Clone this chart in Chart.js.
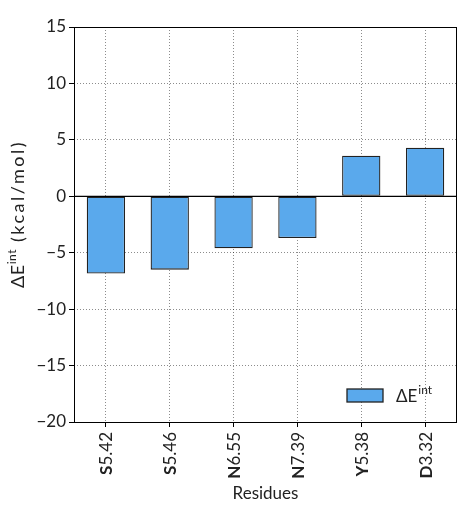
<!DOCTYPE html>
<html>
<head>
<meta charset="utf-8">
<script src="https://cdn.jsdelivr.net/npm/chart.js@4.4.0/dist/chart.umd.min.js"></script>
<style>
  html, body { margin: 0; padding: 0; background: #fff; }
  #wrap { width: 459px; height: 513px; }
</style>
</head>
<body>
<div id="wrap"><canvas id="chart1"></canvas></div>
<script>
const residues = ["S5.42", "S5.46", "N6.55", "N7.39", "Y5.38", "D3.32"];
const energies = [-6.85, -6.5, -4.6, -3.7, 3.6, 4.3];
const yTicks = [-20, -15, -10, -5, 0, 5, 10, 15];

const barColor = '#5AA9EC';
const inkColor = '#222';
const fontName = 'Lato';

// frame, zero line, rotated tick labels, axis titles and legend
const extras = {
    id: 'extras',
    afterDatasetsDraw(chart) {
        const ctx = chart.ctx;
        const area = chart.chartArea;
        const x = chart.scales.x;
        const y = chart.scales.y;
        ctx.save();

        // zero line
        ctx.strokeStyle = '#000';
        ctx.lineWidth = 1.3;
        ctx.beginPath();
        ctx.moveTo(area.left, y.getPixelForValue(0));
        ctx.lineTo(area.right, y.getPixelForValue(0));
        ctx.stroke();

        // frame
        ctx.lineWidth = 1;
        ctx.strokeRect(area.left + 0.5, area.top + 0.5, area.right - area.left - 1, area.bottom - area.top);

        // x tick labels: first letter bold
        ctx.fillStyle = inkColor;
        ctx.textBaseline = 'middle';
        ctx.textAlign = 'right';
        residues.forEach((lab, i) => {
            const px = x.getPixelForTick(i);
            ctx.save();
            ctx.translate(px + 1, area.bottom + 10);
            ctx.rotate(-Math.PI / 2);
            ctx.font = '17px ' + fontName;
            const rest = lab.slice(1);
            ctx.fillText(rest, 0, 0);
            const w = ctx.measureText(rest).width;
            ctx.font = 'bold 17px ' + fontName;
            ctx.fillText(lab[0], -w, 0);
            ctx.restore();
        });

        // x title
        ctx.font = '17px ' + fontName;
        ctx.textAlign = 'center';
        ctx.textBaseline = 'alphabetic';
        ctx.fillText('Residues', (area.left + area.right) / 2, 499);

        // y title with superscript
        const big = '17px ' + fontName;
        const small = '12px ' + fontName;
        const tbig = '18px ' + fontName;
        ctx.save();
        ctx.translate(24, 214);
        ctx.rotate(-Math.PI / 2);
        ctx.textAlign = 'left';
        ctx.font = tbig;
        ctx.letterSpacing = '0.5px';
        const w1 = ctx.measureText('ΔE').width;
        ctx.font = small;
        const w2 = ctx.measureText('int').width;
        ctx.letterSpacing = '2.5px';
        ctx.font = tbig;
        const w3 = ctx.measureText(' (kcal/mol)').width;
        let sx = -(w1 + w2 + w3) / 2;
        ctx.letterSpacing = '0.5px';
        ctx.fillText('ΔE', sx, 0);
        ctx.font = small;
        ctx.fillText('int', sx + w1, -8);
        ctx.letterSpacing = '2.5px';
        ctx.font = tbig;
        ctx.fillText(' (kcal/mol)', sx + w1 + w2, 0);
        ctx.restore();

        // legend
        ctx.fillStyle = barColor;
        ctx.fillRect(347, 389, 36, 13);
        ctx.strokeStyle = inkColor;
        ctx.lineWidth = 1.3;
        ctx.strokeRect(347, 389, 36, 13);
        ctx.fillStyle = inkColor;
        ctx.textAlign = 'left';
        ctx.font = big;
        ctx.fillText('ΔE', 396, 402);
        const lw = ctx.measureText('ΔE').width;
        ctx.font = small;
        ctx.fillText('int', 396 + lw + 1, 394);

        ctx.restore();
    }
};

new Chart("chart1", {
    type: "bar",
    data: {
        labels: residues,
        datasets: [{
            label: 'ΔE int',
            data: energies,
            backgroundColor: barColor,
            borderColor: inkColor,
            borderWidth: 1.3,
            borderSkipped: false,
            barPercentage: 0.6,
            categoryPercentage: 1.0
        }]
    },
    options: {
        responsive: true,
        maintainAspectRatio: false,
        animation: false,
        layout: { padding: { top: 27, right: 2, left: 0, bottom: 0 } },
        plugins: {
            legend: { display: false },
            tooltip: { enabled: false }
        },
        scales: {
            x: {
                offset: true,
                afterFit(scale) { scale.height = 91; },
                ticks: { display: false },
                grid: {
                    offset: false,
                    color: 'rgba(0,0,0,0.45)',
                    tickColor: '#000',
                    tickLength: 5,
                    lineWidth: 1
                },
                border: { display: false, dash: [1, 2] }
            },
            y: {
                min: -20,
                max: 15,
                afterFit(scale) { scale.width = 74; },
                afterBuildTicks(scale) {
                    scale.ticks = yTicks.map(v => ({ value: v }));
                },
                ticks: {
                    color: inkColor,
                    font: { family: fontName, size: 17 },
                    padding: 3,
                    callback: v => String(v).replace('-', '\u2212')
                },
                grid: {
                    color: 'rgba(0,0,0,0.45)',
                    tickColor: '#000',
                    tickLength: 5,
                    lineWidth: 1
                },
                border: { display: false, dash: [1, 2] }
            }
        }
    },
    plugins: [extras]
});
</script>
</body>
</html>
